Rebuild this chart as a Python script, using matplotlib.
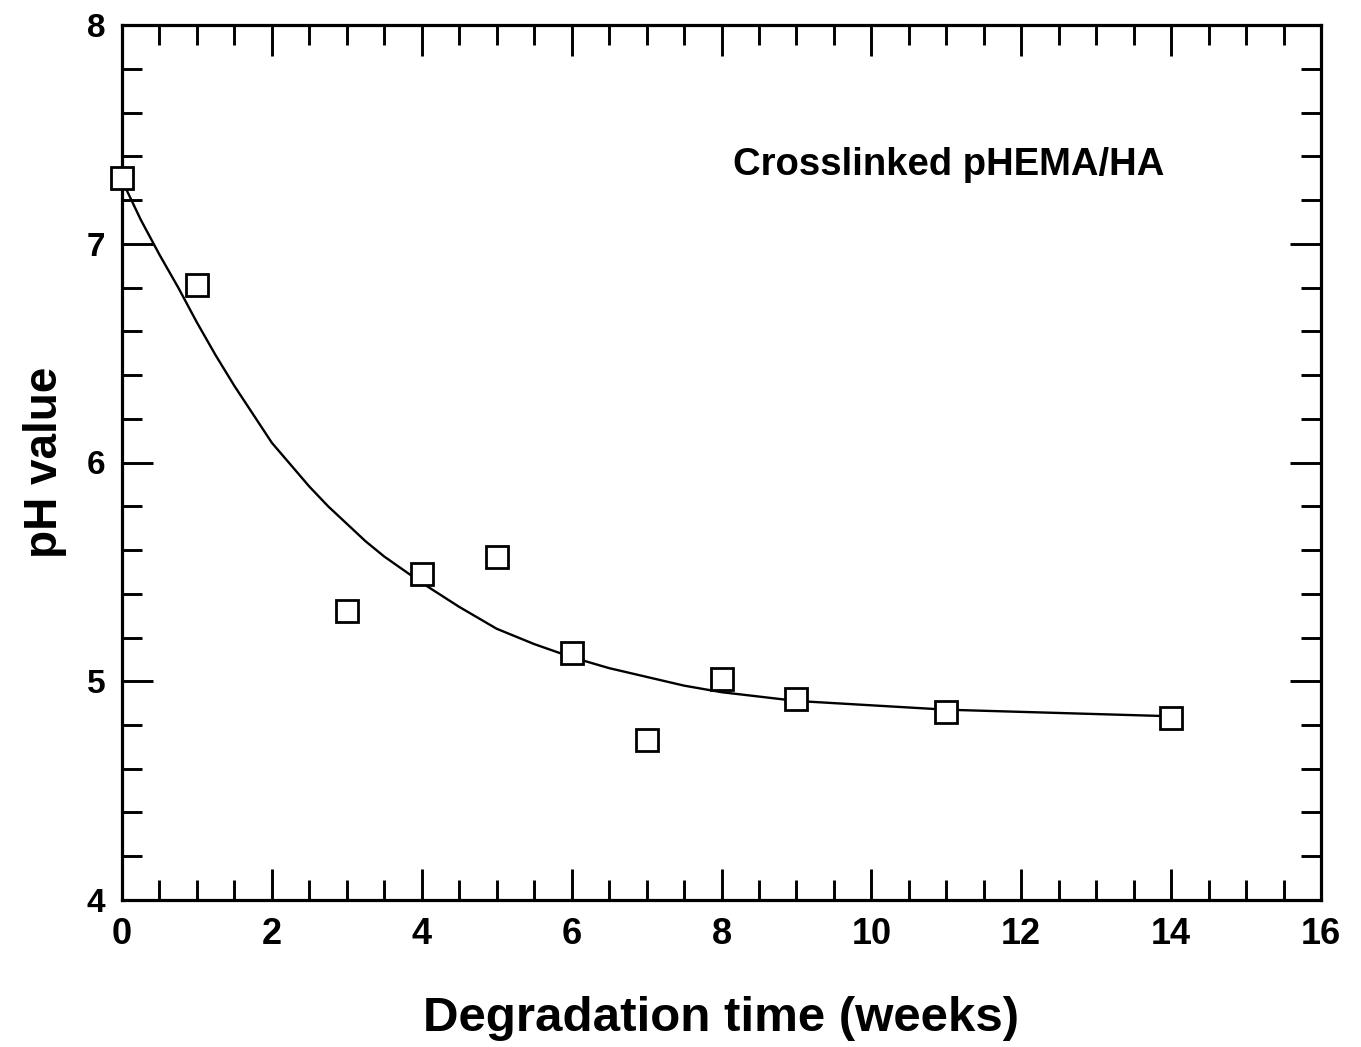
import matplotlib
matplotlib.use("Agg")
import matplotlib.pyplot as plt
from matplotlib.ticker import MultipleLocator

# Measured data
weeks = [0, 1, 3, 4, 5, 6, 7, 8, 9, 11, 14]
ph = [7.30, 6.81, 5.32, 5.49, 5.57, 5.13, 4.73, 5.01, 4.92, 4.86, 4.83]

# Fitted curve
curve_x = [0, 0.25, 0.5, 0.75, 1.0, 1.25, 1.5, 1.75, 2.0, 2.25, 2.5, 2.75, 3.0,
           3.25, 3.5, 3.75, 4.0, 4.5, 5.0, 5.5, 6.0, 6.5, 7.0, 7.5, 8.0, 8.5,
           9.0, 9.5, 10.0, 11.0, 12.0, 13.0, 14.0]
curve_y = [7.29, 7.11, 6.95, 6.80, 6.64, 6.49, 6.35, 6.22, 6.09, 5.99, 5.89,
           5.80, 5.72, 5.64, 5.57, 5.51, 5.45, 5.34, 5.24, 5.17, 5.11, 5.06,
           5.02, 4.98, 4.95, 4.93, 4.91, 4.90, 4.89, 4.87, 4.86, 4.85, 4.84]

annotation = "Crosslinked pHEMA/HA"
xlabel = "Degradation time (weeks)"
ylabel = "pH value"

plt.rcParams['font.family'] = ['Liberation Sans', 'DejaVu Sans']
plt.rcParams['font.weight'] = 'bold'

fig = plt.figure(figsize=(13.61, 10.47), dpi=100)
ax = fig.add_axes([122/1361, 1-900/1047, (1321-122)/1361, (900-25)/1047])

ax.plot(curve_x, curve_y, color='black', lw=1.7, zorder=3)
ax.plot(weeks, ph, linestyle='none', marker='s', markersize=15.5,
        markerfacecolor='white', markeredgecolor='black', markeredgewidth=2.0,
        clip_on=False, zorder=5)

ax.set_xlim(0, 16)
ax.set_ylim(4, 8)
ax.xaxis.set_major_locator(MultipleLocator(2))
ax.xaxis.set_minor_locator(MultipleLocator(0.5))
ax.yaxis.set_major_locator(MultipleLocator(1))
ax.yaxis.set_minor_locator(MultipleLocator(0.2))

for s in ax.spines.values():
    s.set_linewidth(2.3)

ax.tick_params(which='both', direction='in', top=True, right=True, width=2.1)
ax.tick_params(which='major', length=22)
ax.tick_params(which='minor', length=14.5)
ax.tick_params(axis='x', which='major', labelsize=26, pad=12)
ax.tick_params(axis='y', which='major', labelsize=24, pad=12)
for lab in ax.get_xticklabels() + ax.get_yticklabels():
    lab.set_fontweight('bold')

ax.set_xlabel(xlabel, fontsize=35.5, fontweight='bold', labelpad=32)
ax.set_ylabel(ylabel, fontsize=33, fontweight='bold', labelpad=14)

ax.text(8.16, 7.36, annotation, fontsize=27.5, fontweight='bold',
        ha='left', va='center')

fig.savefig("out.png", dpi=100, facecolor='white')
